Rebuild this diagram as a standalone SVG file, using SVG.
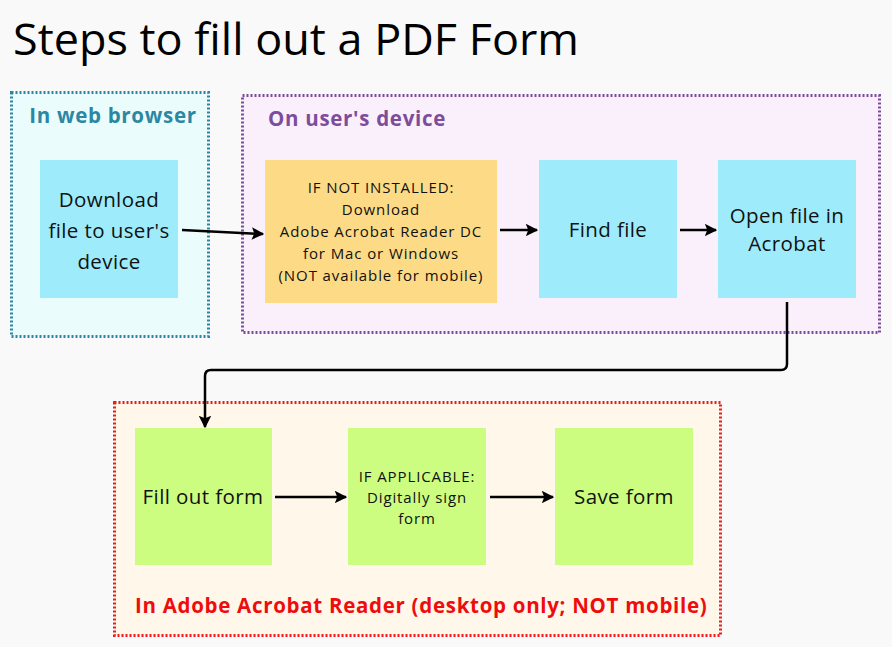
<svg xmlns="http://www.w3.org/2000/svg" width="892" height="647" viewBox="0 0 892 647">
<defs>
<marker id="ah" viewBox="0 0 10 10" refX="9" refY="5" markerWidth="5" markerHeight="5" orient="auto" markerUnits="strokeWidth">
<path d="M0,0 L10,5 L0,10 L2,5 Z" fill="#000"/>
</marker>
<style>
.t{font-family:"Open Sans",Lato,"Liberation Sans",sans-serif;fill:#111;text-anchor:middle}
.big{font-size:20.5px;letter-spacing:0.4px}
.sm{font-size:15px;letter-spacing:0.9px}
.lbl{font-family:"Open Sans",Lato,"Liberation Sans",sans-serif;font-weight:bold;font-size:20.5px;letter-spacing:0.7px}
.cyan{fill:#9eebfc}
.yel{fill:#fddb86}
.grn{fill:#ccfd80}
.con{fill:none;stroke:#000;stroke-width:2.5;marker-end:url(#ah)}
</style>
</defs>
<rect width="892" height="647" fill="#f9f9f9"/>
<text x="13" y="55" font-family="'Open Sans',Lato,'Liberation Sans',sans-serif" font-size="44" fill="#000" textLength="566" lengthAdjust="spacingAndGlyphs">Steps to fill out a PDF Form</text>

<g id="grp-browser">
<rect x="11.5" y="92.5" width="197" height="244" fill="#ebfcfd" stroke="#2b87a3" stroke-width="3" stroke-dasharray="2,2"/>
<text class="lbl" x="113" y="123" text-anchor="middle" fill="#2b87a3">In web browser</text>
</g>
<g id="grp-device">
<rect x="242.5" y="95.5" width="637" height="237" fill="#faf0fb" stroke="#7d4d9c" stroke-width="3" stroke-dasharray="2,2"/>
<text class="lbl" x="268" y="126" fill="#7d4d9c">On user's device</text>
</g>
<g id="grp-reader">
<rect x="114.5" y="402.5" width="606" height="233" fill="#fef7ea" stroke="#ee1c1c" stroke-width="3" stroke-dasharray="2,2"/>
<text class="lbl" x="135" y="613" fill="#ee0c0c">In Adobe Acrobat Reader (desktop only; NOT mobile)</text>
</g>

<g id="connectors">
<path class="con" d="M182,230 L263,234"/>
<path class="con" d="M500,230 L537,230"/>
<path class="con" d="M680,230 L716,230"/>
<path class="con" d="M787,302 L787,364 Q787,370 781,370 L211,370 Q205,370 205,376 L205,427"/>
<path class="con" d="M275,497 L346,497"/>
<path class="con" d="M490,497 L553,497"/>
</g>

<g id="n-download">
<rect class="cyan" x="40" y="160" width="138" height="138"/>
<text class="t big" x="109" y="207">Download</text>
<text class="t big" x="109" y="238">file to user's</text>
<text class="t big" x="109" y="269">device</text>
</g>
<g id="n-install">
<rect class="yel" x="265" y="160" width="232" height="143"/>
<text class="t sm" x="381" y="193">IF NOT INSTALLED:</text>
<text class="t sm" x="381" y="215">Download</text>
<text class="t sm" x="381" y="237">Adobe Acrobat Reader DC</text>
<text class="t sm" x="381" y="259">for Mac or Windows</text>
<text class="t sm" x="381" y="281">(NOT available for mobile)</text>
</g>
<g id="n-find">
<rect class="cyan" x="539" y="160" width="138" height="138"/>
<text class="t big" x="608" y="237">Find file</text>
</g>
<g id="n-open">
<rect class="cyan" x="718" y="160" width="138" height="138"/>
<text class="t big" x="787" y="223">Open file in</text>
<text class="t big" x="787" y="251">Acrobat</text>
</g>
<g id="n-fill">
<rect class="grn" x="135" y="428" width="137" height="137"/>
<text class="t big" x="203" y="504">Fill out form</text>
</g>
<g id="n-sign">
<rect class="grn" x="348" y="428" width="138" height="137"/>
<text class="t sm" x="417" y="482">IF APPLICABLE:</text>
<text class="t sm" x="417" y="503">Digitally sign</text>
<text class="t sm" x="417" y="524">form</text>
</g>
<g id="n-save">
<rect class="grn" x="555" y="428" width="138" height="137"/>
<text class="t big" x="624" y="504">Save form</text>
</g>
</svg>
